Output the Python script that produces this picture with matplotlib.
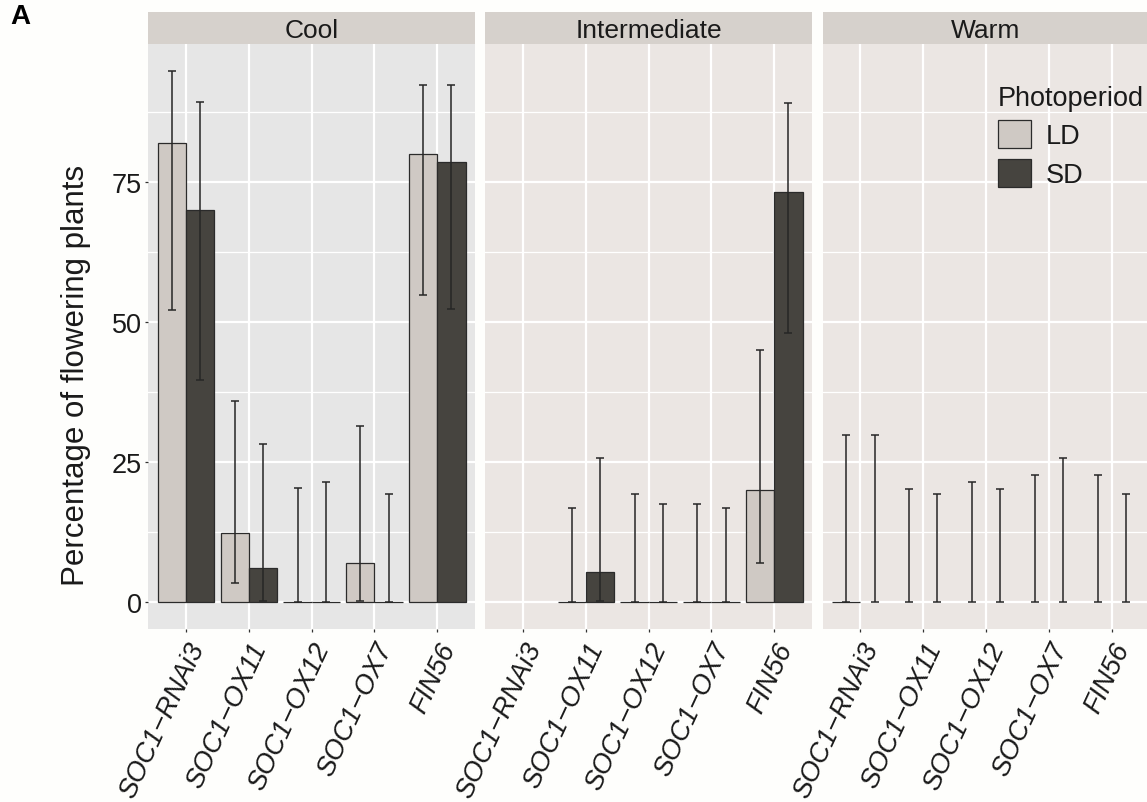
import matplotlib.pyplot as plt
from matplotlib.patches import Patch
import numpy as np

plt.rcParams['font.family'] = ['Liberation Sans', 'DejaVu Sans']

nan = np.nan

conditions = ['Cool', 'Intermediate', 'Warm']
genotypes = ['SOC1\u2212RNAi3', 'SOC1\u2212OX11', 'SOC1\u2212OX12', 'SOC1\u2212OX7', 'FIN56']
photoperiods = ['LD', 'SD']

# mean % flowering, per condition, genotype order as above (nan = no bar)
ld_mean = [[81.9, 12.4, 0, 7.1, 80.1],
           [nan, 0, 0, 0, 20.0],
           [0, nan, nan, nan, nan]]
ld_low = [[52.2, 3.5, 0, 0.3, 54.8],
          [nan, 0, 0, 0, 7.0],
          [0, 0, 0, 0, 0]]
ld_high = [[94.9, 36.0, 20.4, 31.4, 92.3],
           [nan, 16.8, 19.3, 17.5, 45.1],
           [29.9, 20.3, 21.5, 22.7, 22.7]]

sd_mean = [[70.0, 6.2, 0, 0, 78.6],
           [nan, 5.5, 0, 0, 73.3],
           [nan, nan, nan, nan, nan]]
sd_low = [[39.6, 0.2, 0, 0, 52.3],
          [nan, 0.2, 0, 0, 48.0],
          [0, 0, 0, 0, 0]]
sd_high = [[89.3, 28.3, 21.5, 19.3, 92.4],
           [nan, 25.7, 17.5, 16.8, 89.1],
           [29.9, 19.3, 20.3, 25.8, 19.3]]

fill = {'LD': '#cfc9c4', 'SD': '#46443f'}
edge = '#2b2b2b'
panel_bg = ['#e6e6e6', '#ebe6e3', '#ebe6e3']
strip_bg = '#d6d1cc'
txt = '#1a1a1a'

W, H = 1147, 803
dpi = 100
fig = plt.figure(figsize=(W / dpi, H / dpi), dpi=dpi, facecolor='#fefefc')

# panel geometry in pixels
lefts = [148.3, 485.3, 822.7]
pw = 326.7
top, bottom = 45, 630
strip_h = 32

ymax = np.nanmax([ld_high, sd_high])
ylim = (-0.05 * ymax, 1.05 * ymax)

x = np.arange(len(genotypes))
series = [('LD', ld_mean, ld_low, ld_high, -0.225),
          ('SD', sd_mean, sd_low, sd_high, 0.225)]

for i, cond in enumerate(conditions):
    ax = fig.add_axes([lefts[i] / W, (H - bottom) / H, pw / W, (bottom - top) / H])
    ax.set_facecolor(panel_bg[i])
    for name, mean, low, high, off in series:
        m = np.array(mean[i], dtype=float)
        lo = np.array(low[i], dtype=float)
        hi = np.array(high[i], dtype=float)
        xs = x + off
        ok = ~np.isnan(m)
        ax.bar(xs[ok], m[ok], width=0.45, color=fill[name], edgecolor=edge,
               linewidth=0.9, zorder=3)
        ek = ~np.isnan(hi)
        ax.errorbar(xs[ek], lo[ek], yerr=[np.zeros(ek.sum()), hi[ek] - lo[ek]],
                    fmt='none', ecolor='#262626', elinewidth=1.1, capsize=3.2,
                    capthick=1.1, zorder=4)

    ax.set_xlim(-0.6, len(genotypes) - 0.4)
    ax.set_ylim(*ylim)
    ax.set_yticks([0, 25, 50, 75])
    ax.set_yticks([12.5, 37.5, 62.5, 87.5], minor=True)
    ax.set_xticks(x)
    ax.grid(which='major', color='white', linewidth=1.6)
    ax.grid(which='minor', axis='y', color='white', linewidth=0.9)
    ax.set_axisbelow(True)
    for s in ax.spines.values():
        s.set_visible(False)
    ax.tick_params(which='minor', length=0)
    ax.tick_params(axis='x', length=2.5, width=0.9, color='#333333', pad=4)
    ax.set_xticklabels(genotypes, rotation=65, ha='right', va='top',
                       rotation_mode='anchor', style='italic', fontsize=19.5, color=txt)
    if i == 0:
        ax.tick_params(axis='y', length=2.5, width=0.9, color='#333333', pad=2,
                       labelsize=19.5, labelcolor=txt)
    else:
        ax.tick_params(axis='y', length=0, labelleft=False)

    # facet strip
    sax = fig.add_axes([lefts[i] / W, (H - top) / H, pw / W, strip_h / H])
    sax.set_facecolor(strip_bg)
    sax.set_xticks([])
    sax.set_yticks([])
    for s in sax.spines.values():
        s.set_visible(False)
    sax.text(0.5, 0.45, cond, ha='center', va='center', fontsize=19, color=txt,
             transform=sax.transAxes)

fig.text(76 / W, 1 - 375 / H, 'Percentage of flowering plants', rotation=90,
         ha='center', va='center', fontsize=22.5, color=txt)

fig.text(10 / W, 1 - 4 / H, 'A', ha='left', va='top', fontsize=20,
         fontweight='bold', color='black')

handles = [Patch(facecolor=fill[p], edgecolor=edge, linewidth=0.9) for p in photoperiods]
leg = fig.legend(handles, photoperiods, title='Photoperiod', loc='upper left',
                 bbox_to_anchor=(998 / W, 1 - 86 / H), frameon=False, fontsize=19.5,
                 title_fontsize=19.5, handlelength=1.2, handleheight=1.2,
                 handletextpad=0.55, labelspacing=0.35, borderpad=0,
                 borderaxespad=0, alignment='left')
for t in leg.get_texts():
    t.set_color(txt)
leg.get_title().set_color(txt)

fig.savefig('out.png', dpi=dpi, facecolor=fig.get_facecolor())
